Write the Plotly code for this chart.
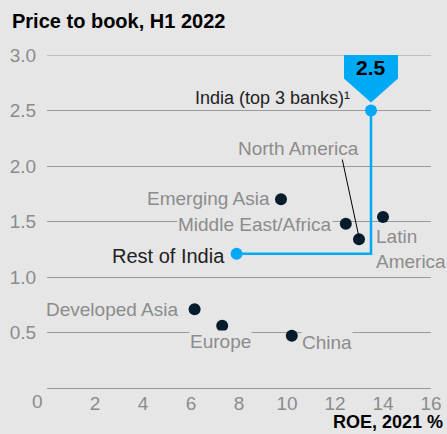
import plotly.graph_objects as go

# ---- data ----
regions = ["Emerging Asia", "Middle East/Africa", "North America", "Latin America",
           "Developed Asia", "Europe", "China"]
roe = [9.75, 12.45, 13.0, 14.0, 6.15, 7.3, 10.2]
ptb = [1.70, 1.48, 1.34, 1.54, 0.71, 0.56, 0.47]

india_labels = ["India (top 3 banks)¹", "Rest of India"]
india_roe = [13.5, 7.9]
india_ptb = [2.5, 1.21]
callout_text = "2.5"

x_ticks = [0, 2, 4, 6, 8, 10, 12, 14, 16]
y_ticks = [0.5, 1.0, 1.5, 2.0, 2.5, 3.0]

BG = "#e6e6e6"
NAVY = "#051c2c"
BLUE = "#00a9f4"
GRAY = "#8c8c8c"
GRID = "#9a9a9a"
FONT = "Liberation Sans, Arial, sans-serif"

fig = go.Figure()

# blue connector India -> Rest of India
fig.add_trace(go.Scatter(
    x=[india_roe[0], india_roe[0], india_roe[1]],
    y=[india_ptb[0], india_ptb[1], india_ptb[1]],
    mode="lines", line=dict(color=BLUE, width=2.5),
    hoverinfo="skip", showlegend=False, cliponaxis=False))

fig.add_trace(go.Scatter(
    x=roe, y=ptb, mode="markers", text=regions,
    marker=dict(color=NAVY, size=12), showlegend=False, cliponaxis=False))

fig.add_trace(go.Scatter(
    x=india_roe, y=india_ptb, mode="markers", text=india_labels,
    marker=dict(color=BLUE, size=12), showlegend=False, cliponaxis=False))

# label offsets (pixels): xanchor, xshift, yshift
label_pos = {
    "Emerging Asia": ("right", -10, 1),
    "Middle East/Africa": ("right", -13, -1),
    "North America": ("right", 1, 91),
    "Latin America": ("left", -8, -32),
    "Developed Asia": ("right", -16, 0),
    "Europe": ("center", -2, -16),
    "China": ("left", 9, -7),
}
annotations = []
for name, x, y in zip(regions, roe, ptb):
    xa, xs, ys = label_pos[name]
    txt = "Latin<br>America" if name == "Latin America" else name
    annotations.append(dict(
        x=x, y=y, xref="x", yref="y", text=txt, showarrow=False,
        xanchor=xa, yanchor="middle", xshift=xs, yshift=ys, align="left",
        font=dict(family=FONT, size=19, color=GRAY), bgcolor=BG, borderpad=0))

annotations.append(dict(
    x=india_roe[0], y=india_ptb[0], xref="x", yref="y", text=india_labels[0],
    showarrow=False, xanchor="right", yanchor="middle", xshift=-19, yshift=13,
    font=dict(family=FONT, size=18, color="#222222")))
annotations.append(dict(
    x=india_roe[1], y=india_ptb[1], xref="x", yref="y", text=india_labels[1],
    showarrow=False, xanchor="right", yanchor="middle", xshift=-10, yshift=-2,
    font=dict(family=FONT, size=20, color="#222222")))

# callout value
annotations.append(dict(
    x=india_roe[0], y=india_ptb[0], xref="x", yref="y", text="<b>" + callout_text + "</b>",
    showarrow=False, xanchor="center", yanchor="middle", xshift=0, yshift=43,
    font=dict(family=FONT, size=21, color="#000000")))

# title and axis title
annotations.append(dict(
    x=0, y=1, xref="paper", yref="paper", text="<b>Price to book, H1 2022</b>",
    showarrow=False, xanchor="left", yanchor="middle", xshift=-37, yshift=34,
    font=dict(family=FONT, size=20, color="#000000")))
annotations.append(dict(
    x=1, y=0, xref="paper", yref="paper", text="<b>ROE, 2021 %</b>",
    showarrow=False, xanchor="right", yanchor="bottom", xshift=14, yshift=-46,
    font=dict(family=FONT, size=18, color="#000000")))

# "0" tick label, set left of the axis
annotations.append(dict(
    x=x_ticks[0], y=0, xref="x", yref="paper", text=str(x_ticks[0]),
    showarrow=False, xanchor="center", yanchor="middle", xshift=-9.5, yshift=-13,
    font=dict(family=FONT, size=19, color=GRAY)))

# callout shape anchored at India point
shapes = [
    dict(type="path", xref="x", yref="y", xsizemode="pixel", ysizemode="pixel",
         xanchor=india_roe[0], yanchor=india_ptb[0],
         path="M -27 56 L 27 56 L 27 32 L 0 8 L -27 32 Z",
         fillcolor=BLUE, line=dict(width=0), layer="above"),
    # North America leader line
    dict(type="line", xref="x", yref="y", xsizemode="pixel", ysizemode="pixel",
         xanchor=roe[2], yanchor=ptb[2], x0=0, y0=2, x1=-17, y1=81,
         line=dict(color="#000000", width=1)),
    # top gridline at 3.0 (edge of range)
    dict(type="line", xref="paper", yref="y", x0=0, x1=1, y0=y_ticks[-1], y1=y_ticks[-1],
         line=dict(color=GRID, width=1), layer="below"),
]

fig.update_layout(
    width=447, height=434,
    margin=dict(l=47, r=16, t=55, b=46),
    paper_bgcolor=BG, plot_bgcolor=BG,
    font=dict(family=FONT, color=GRAY),
    annotations=annotations, shapes=shapes,
    xaxis=dict(range=[0, 16], tickvals=x_ticks[1:], ticktext=[str(v) for v in x_ticks[1:]],
               showgrid=False, zeroline=False, showline=True, linecolor=GRID, linewidth=1,
               ticks="", ticklabelstandoff=-2,
               tickfont=dict(family=FONT, size=19, color=GRAY), fixedrange=True,
               automargin=False),
    yaxis=dict(range=[0, 3], tickvals=y_ticks, tickformat=".1f",
               showgrid=True, gridcolor=GRID, gridwidth=1, zeroline=False,
               ticks="outside", ticklen=6, tickcolor="rgba(0,0,0,0)",
               tickfont=dict(family=FONT, size=19, color=GRAY), fixedrange=True,
               automargin=False),
    hovermode=False,
)

fig.write_html("out.html", config={"displayModeBar": False},
               post_script="document.body.style.margin='0';document.body.style.overflow='hidden';")
